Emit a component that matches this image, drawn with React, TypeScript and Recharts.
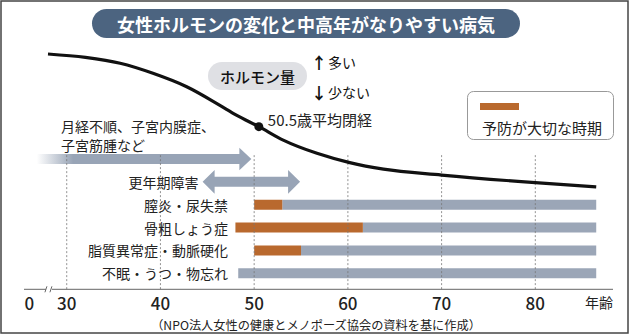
import React from 'react';
import {
  ComposedChart,
  Line,
  XAxis,
  YAxis,
  ReferenceArea,
  ReferenceLine,
  ReferenceDot,
} from 'recharts';

// ---- data ----
const hormoneAges = [28, 32, 35.7, 39.2, 42.8, 46.3, 48.1, 50.5, 53.1, 56.7, 60.2, 63.8, 70, 80, 86.5];
const hormoneLevels = [96.2, 94.8, 92.4, 88.3, 82.8, 75.3, 71.2, 66.5, 61, 55.6, 51.8, 49.1, 46.7, 43.6, 41.9];

const menopauseAge = 50.5;
const menopauseLabel = '50.5歳平均閉経';

const diseaseNames = ['膣炎・尿失禁', '骨粗しょう症', '脂質異常症・動脈硬化', '不眠・うつ・物忘れ'];
const diseaseStart = [50, 48, 50, 48.3];
const preventionEnd = [53, 61.6, 55, 48.3];
const diseaseEnd = [86.5, 86.5, 86.5, 86.5];
const diseaseRows = [2, 3, 4, 5];

const arrowNames = ['月経不順、子宮内膜症、子宮筋腫など', '更年期障害'];
const arrowStart = [26.8, 44.5];
const arrowEnd = [49.7, 54.9];
const arrowDouble = [false, true];
const arrowRows = [0, 1];

const tickValues = [26, 30, 40, 50, 60, 70, 80, 86.8];
const tickLabels = ['0', '30', '40', '50', '60', '70', '80', '年齢'];
const gridAges = [30, 40, 50, 60, 70, 80];

const hormoneData = hormoneAges.map((age, i) => ({ age, level: hormoneLevels[i] }));

// ---- style ----
const FONT = '"Noto Sans CJK JP", "Noto Sans", sans-serif';
const ORANGE = '#b9692e';
const GRAY_BAR = '#9ba6b7';
const ARROW = '#98a4b6';

const AgeTick = (props: any) => {
  const { x, y, payload } = props;
  const idx = tickValues.indexOf(payload.value);
  const label = tickLabels[idx];
  const unit = label === '年齢';
  return (
    <text
      x={x}
      y={y + 13}
      textAnchor="middle"
      dominantBaseline="central"
      fontSize={unit ? 14 : 17}
      fontWeight={unit ? 400 : 500}
      fill="#222"
      fontFamily={FONT}
    >
      {label}
    </text>
  );
};

const makeArrow = (double: boolean, label: string) => (p: any) => {
  const { x, y, width, height } = p;
  const cy = y + height / 2;
  const hh = height / 2;
  const sh = 5;
  const hl = 12;
  const x2 = x + width;
  let pts: number[][];
  if (double) {
    pts = [
      [x, cy], [x + hl, cy - hh], [x + hl, cy - sh], [x2 - hl, cy - sh], [x2 - hl, cy - hh],
      [x2, cy], [x2 - hl, cy + hh], [x2 - hl, cy + sh], [x + hl, cy + sh], [x + hl, cy + hh],
    ];
  } else {
    pts = [
      [x, cy - sh], [x2 - hl, cy - sh], [x2 - hl, cy - hh], [x2, cy],
      [x2 - hl, cy + hh], [x2 - hl, cy + sh], [x, cy + sh],
    ];
  }
  const d = pts.map((q) => q.join(',')).join(' ');
  return (
    <g>
      {!double && (
        <defs>
          <linearGradient id="fadeGrad" x1="0" x2="1" y1="0" y2="0">
            <stop offset="0" stopColor={ARROW} stopOpacity={0} />
            <stop offset="0.17" stopColor={ARROW} stopOpacity={1} />
            <stop offset="1" stopColor={ARROW} stopOpacity={1} />
          </linearGradient>
        </defs>
      )}
      <polygon points={d} fill={double ? ARROW : 'url(#fadeGrad)'} />
      {double && (
        <text x={x - 4} y={cy} textAnchor="end" dominantBaseline="central" fontSize={14} fill="#222" fontFamily={FONT}>
          {label}
        </text>
      )}
    </g>
  );
};

const makeLabel = (text: string) => (p: any) => (
  <text x={p.cx} y={p.cy} textAnchor="end" dominantBaseline="central" fontSize={14} fill="#222" fontFamily={FONT}>
    {text}
  </text>
);

const MenopauseDot = (p: any) => (
  <g>
    <circle cx={p.cx} cy={p.cy} r={4.5} fill="#111" />
    <text x={p.cx + 9} y={p.cy - 7} dominantBaseline="central" fontSize={15} fill="#222" fontFamily={FONT}>
      {menopauseLabel}
    </text>
  </g>
);

const BreakMark = (p: any) => (
  <g>
    <rect x={p.cx - 3} y={p.cy - 2} width={6} height={4} fill="#fff" />
    <line x1={p.cx - 4} y1={p.cy + 3} x2={p.cx - 2} y2={p.cy - 3} stroke="#666" strokeWidth={1} />
    <line x1={p.cx + 1} y1={p.cy + 3} x2={p.cx + 3} y2={p.cy - 3} stroke="#666" strokeWidth={1} />
  </g>
);

export default function App() {
  return (
    <div style={{ position: 'absolute', left: 0, top: 0, width: 630, height: 336, background: '#fff', fontFamily: FONT }}>
      <ComposedChart
        width={630}
        height={336}
        data={hormoneData}
        margin={{ top: 44.7, right: 17, bottom: 16.7, left: 24 }}
      >
        <XAxis
          dataKey="age"
          type="number"
          domain={[25.44, 88.29]}
          allowDataOverflow
          ticks={tickValues}
          interval={0}
          tickLine={false}
          tickSize={0}
          tickMargin={0}
          height={30}
          axisLine={{ stroke: '#666', strokeWidth: 1 }}
          tick={<AgeTick />}
        />
        <YAxis yAxisId="hormone" type="number" domain={[0, 100]} allowDataOverflow hide />
        <YAxis yAxisId="rows" type="number" domain={[-5, 5.7]} reversed allowDataOverflow hide />

        {gridAges.map((a) => (
          <ReferenceLine
            key={'g' + a}
            yAxisId="rows"
            segment={[{ x: a, y: -0.17 }, { x: a, y: 5.7 }]}
            stroke="#777"
            strokeWidth={0.8}
            strokeDasharray="2 2"
            ifOverflow="visible"
          />
        ))}

        {diseaseNames.map((n, i) => (
          <ReferenceArea
            key={'b' + i}
            yAxisId="rows"
            x1={preventionEnd[i]}
            x2={diseaseEnd[i]}
            y1={diseaseRows[i] - 0.22}
            y2={diseaseRows[i] + 0.22}
            fill={GRAY_BAR}
            fillOpacity={1}
            stroke="none"
            ifOverflow="visible"
          />
        ))}
        {diseaseNames.map((n, i) =>
          preventionEnd[i] > diseaseStart[i] ? (
            <ReferenceArea
              key={'o' + i}
              yAxisId="rows"
              x1={diseaseStart[i]}
              x2={preventionEnd[i]}
              y1={diseaseRows[i] - 0.22}
              y2={diseaseRows[i] + 0.22}
              fill={ORANGE}
              fillOpacity={1}
              stroke="none"
              ifOverflow="visible"
            />
          ) : null
        )}
        {diseaseNames.map((n, i) => (
          <ReferenceDot
            key={'l' + i}
            yAxisId="rows"
            x={47.2}
            y={diseaseRows[i]}
            ifOverflow="visible"
            shape={makeLabel(n)}
          />
        ))}

        {arrowNames.map((n, i) => (
          <ReferenceArea
            key={'a' + i}
            yAxisId="rows"
            x1={arrowStart[i]}
            x2={arrowEnd[i]}
            y1={arrowRows[i] - (arrowDouble[i] ? 0.52 : 0.49)}
            y2={arrowRows[i] + (arrowDouble[i] ? 0.52 : 0.49)}
            ifOverflow="visible"
            shape={makeArrow(arrowDouble[i], n)}
          />
        ))}

        <Line
          yAxisId="hormone"
          dataKey="level"
          type="monotone"
          stroke="#111"
          strokeWidth={3.2}
          dot={false}
          activeDot={false}
          isAnimationActive={false}
        />
        <ReferenceDot
          yAxisId="hormone"
          x={menopauseAge}
          y={66.5}
          ifOverflow="visible"
          shape={<MenopauseDot />}
        />
        <ReferenceDot yAxisId="rows" x={28.1} y={5.7} ifOverflow="visible" shape={<BreakMark />} />
      </ComposedChart>

      <svg width={630} height={336} style={{ position: 'absolute', left: 0, top: 0, pointerEvents: 'none' }} fontFamily={FONT}>
        <rect x={1} y={1} width={627} height={332} fill="none" stroke="#444" strokeWidth={1.5} />
        <rect x={92} y={9} width={428} height={29} rx={14.5} fill="#4c6480" />
        <text x={306} y={24} textAnchor="middle" dominantBaseline="central" fontSize={18} fontWeight={700} fill="#fff">
          女性ホルモンの変化と中高年がなりやすい病気
        </text>

        <rect x={208} y={62} width={99} height={28} rx={14} fill="#dfe0e4" />
        <text x={257.5} y={76} textAnchor="middle" dominantBaseline="central" fontSize={15} fontWeight={500} fill="#111">
          ホルモン量
        </text>
        <text x={311} y={62} dominantBaseline="central" fontSize={16} fill="#111">
          <tspan fontWeight={700}>↑</tspan>
          <tspan dx={1} fontSize={14}>多い</tspan>
        </text>
        <text x={311} y={92} dominantBaseline="central" fontSize={16} fill="#111">
          <tspan fontWeight={700}>↓</tspan>
          <tspan dx={1} fontSize={14}>少ない</tspan>
        </text>

        <rect x={467.5} y={91.5} width={146} height={48} rx={6} fill="#fff" stroke="#999" strokeWidth={1} />
        <rect x={480} y={103} width={39} height={7} fill={ORANGE} />
        <text x={482} y={127} dominantBaseline="central" fontSize={15} fill="#222">
          予防が大切な時期
        </text>

        <text x={61} y={126} dominantBaseline="central" fontSize={14} fill="#222">
          月経不順、子宮内膜症、
        </text>
        <text x={61} y={144.5} dominantBaseline="central" fontSize={14} fill="#222">
          子宮筋腫など
        </text>

        <text x={316} y={325} textAnchor="middle" dominantBaseline="central" fontSize={12.2} fill="#222">
          （NPO法人女性の健康とメノポーズ協会の資料を基に作成）
        </text>
      </svg>
    </div>
  );
}
